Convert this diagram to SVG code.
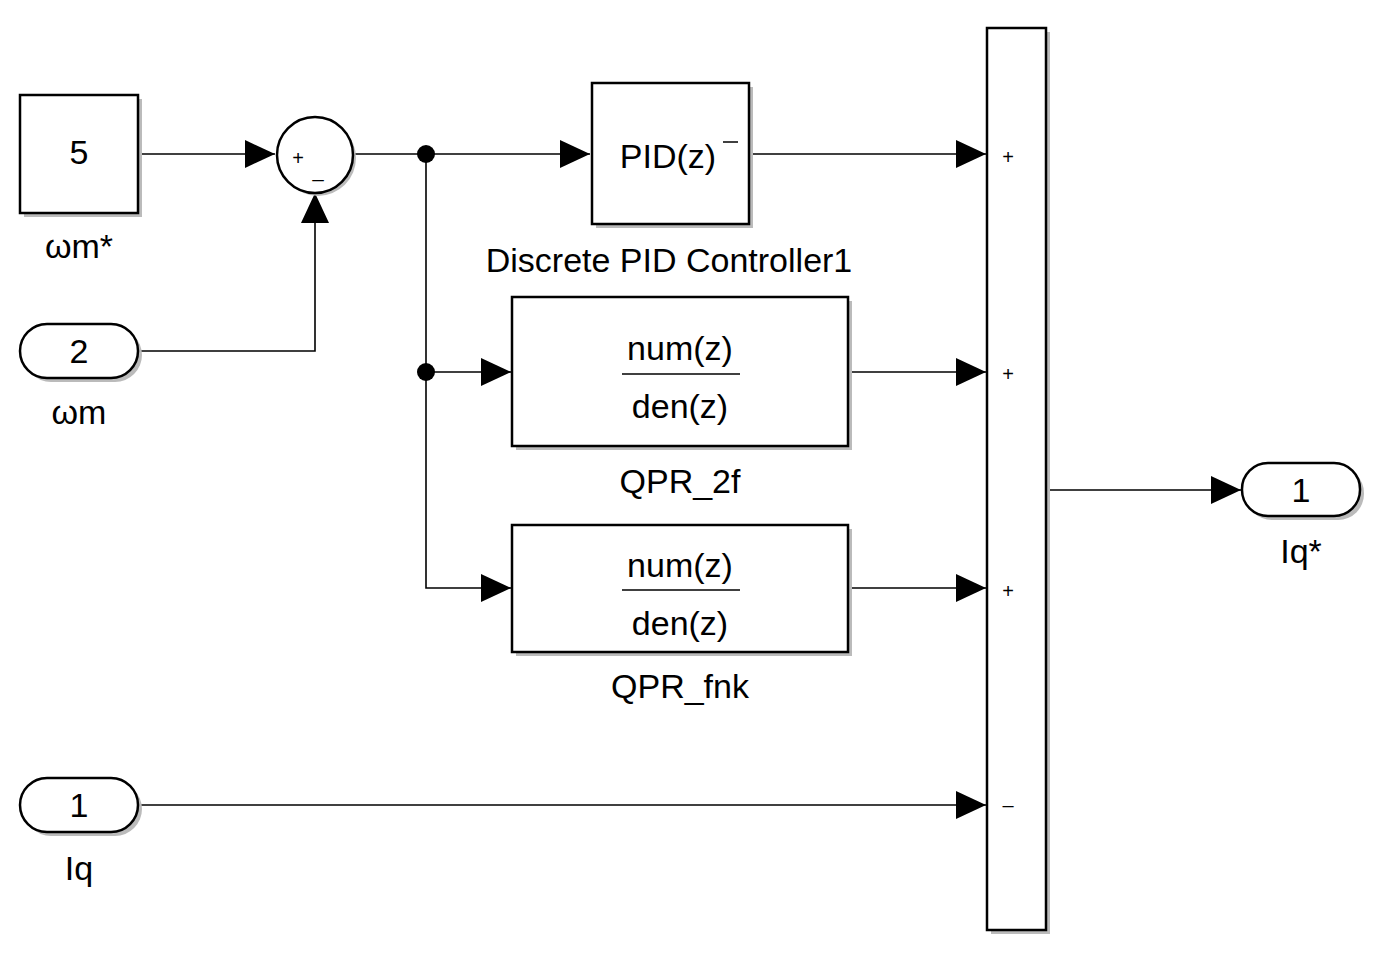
<svg xmlns="http://www.w3.org/2000/svg" width="1375" height="963" viewBox="0 0 1375 963">
<style>
.b{fill:#fff;stroke:#000;stroke-width:2.5}
.sh{fill:#bbb;stroke:none}
.l{fill:none;stroke:#000;stroke-width:1.6}
.t{font-family:"Liberation Sans",Arial,sans-serif;font-size:34px;fill:#000;text-anchor:middle}
.s{font-family:"Liberation Sans",Arial,sans-serif;font-size:20px;fill:#000;text-anchor:middle}
</style>
<defs>
<marker id="a" markerWidth="30" markerHeight="28" refX="30" refY="14" orient="auto" markerUnits="userSpaceOnUse"><path d="M0,0L30,14L0,28Z" fill="#000"/></marker>
</defs>
<rect width="1375" height="963" fill="#fff"/>
<g id="connectors">
<path class="l" d="M138,154H275" marker-end="url(#a)"/>
<path class="l" d="M138,351H315V193" marker-end="url(#a)"/>
<path class="l" d="M353,154H590" marker-end="url(#a)"/>
<path class="l" d="M426,154V588H511" marker-end="url(#a)"/>
<path class="l" d="M426,372H511" marker-end="url(#a)"/>
<path class="l" d="M749,154H986" marker-end="url(#a)"/>
<path class="l" d="M848,372H986" marker-end="url(#a)"/>
<path class="l" d="M848,588H986" marker-end="url(#a)"/>
<path class="l" d="M138,805H986" marker-end="url(#a)"/>
<path class="l" d="M1046,490H1241" marker-end="url(#a)"/>
<circle cx="426" cy="154" r="9"/>
<circle cx="426" cy="372" r="9"/>
</g>
<g id="const5">
<rect class="sh" x="24" y="99" width="118" height="118"/>
<rect class="b" x="20" y="95" width="118" height="118"/>
<text class="t" x="79" y="164">5</text>
<text class="t" x="79" y="258">ωm*</text>
</g>
<g id="sum1">
<circle class="sh" cx="318" cy="158" r="38"/>
<circle class="b" cx="315" cy="155" r="38"/>
<text class="s" x="298" y="165">+</text>
<text class="s" x="318" y="177">_</text>
</g>
<g id="in2">
<rect class="sh" x="24" y="328" width="118" height="54" rx="27"/>
<rect class="b" x="20" y="324" width="118" height="54" rx="27"/>
<text class="t" x="79" y="363">2</text>
<text class="t" x="79" y="424">ωm</text>
</g>
<g id="pid">
<rect class="sh" x="596" y="87" width="157" height="141"/>
<rect class="b" x="592" y="83" width="157" height="141"/>
<text class="t" x="668" y="168">PID(z)</text>
<path d="M723,142H738" stroke="#000" stroke-width="1.5"/>
<text class="t" x="669" y="272">Discrete PID Controller1</text>
</g>
<g id="qpr2f">
<rect class="sh" x="516" y="301" width="336" height="149"/>
<rect class="b" x="512" y="297" width="336" height="149"/>
<text class="t" x="680" y="360">num(z)</text>
<path d="M622,374H740" stroke="#000" stroke-width="1.5"/>
<text class="t" x="680" y="418">den(z)</text>
<text class="t" x="680" y="493">QPR_2f</text>
</g>
<g id="qprfnk">
<rect class="sh" x="516" y="529" width="336" height="127"/>
<rect class="b" x="512" y="525" width="336" height="127"/>
<text class="t" x="680" y="577">num(z)</text>
<path d="M622,590H740" stroke="#000" stroke-width="1.5"/>
<text class="t" x="680" y="635">den(z)</text>
<text class="t" x="680" y="698">QPR_fnk</text>
</g>
<g id="sum2">
<rect class="sh" x="991" y="32" width="59" height="902"/>
<rect class="b" x="987" y="28" width="59" height="902"/>
<text class="s" x="1008" y="164">+</text>
<text class="s" x="1008" y="381">+</text>
<text class="s" x="1008" y="598">+</text>
<text class="s" x="1008" y="812">–</text>
</g>
<g id="out1">
<rect class="sh" x="1246" y="467" width="118" height="53" rx="26"/>
<rect class="b" x="1242" y="463" width="118" height="53" rx="26"/>
<text class="t" x="1301" y="502">1</text>
<text class="t" x="1301" y="563">Iq*</text>
</g>
<g id="in1">
<rect class="sh" x="24" y="782" width="118" height="54" rx="27"/>
<rect class="b" x="20" y="778" width="118" height="54" rx="27"/>
<text class="t" x="79" y="817">1</text>
<text class="t" x="79" y="880">Iq</text>
</g>
</svg>
